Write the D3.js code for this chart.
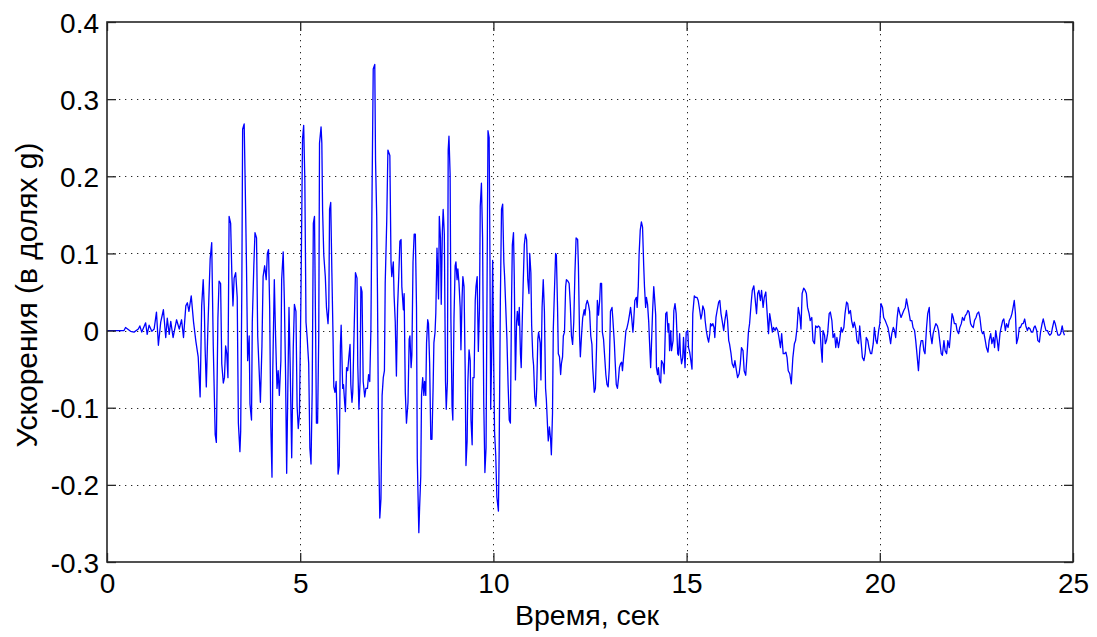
<!DOCTYPE html>
<html><head><meta charset="utf-8">
<script src="https://cdn.jsdelivr.net/npm/d3@7/dist/d3.min.js"></script>
<style>body{margin:0;background:#fff}svg{display:block}</style>
</head><body><svg id="c" width="1097" height="637"></svg>
<script>
// [time (s), acceleration (g)]
const onset = [[0,0],[0.44,0],[0.48,0.004],[0.61,-0.001],[0.70,-0.002],[0.81,0.002],[0.85,0.006],[0.90,-0.002],[1.00,0.010],[1.04,-0.005],[1.09,0.007],[1.16,-0.001],[1.22,0.002],[1.28,0.024],[1.33,-0.019],[1.39,0.011],[1.46,0.027],[1.52,-0.009],[1.56,0.016],[1.61,-0.005],[1.65,0.012],[1.71,-0.009],[1.80,0.014],[1.87,0.002],[1.93,0.014],[1.98,-0.009],[2.04,0.032],[2.08,0.036],[2.12,0.025],[2.18,0.045],[2.24,0.011],[2.30,-0.014],[2.36,-0.034],[2.41,-0.086]];
const strongA = [[2.45,0.032],[2.49,0.066],[2.52,0.025],[2.54,-0.025],[2.57,-0.073],[2.61,0.002],[2.67,0.093],[2.71,0.114],[2.75,-0.020],[2.80,-0.135],[2.83,-0.145],[2.87,0.016],[2.90,0.064],[2.94,0.061],[2.97,-0.043],[3.01,-0.068],[3.04,-0.061],[3.07,-0.020],[3.10,-0.030],[3.13,-0.061],[3.16,0.148],[3.20,0.139],[3.23,0.075],[3.26,0.032],[3.29,0.068],[3.33,0.075],[3.37,0.043],[3.40,-0.120],[3.44,-0.157],[3.46,-0.130],[3.49,0.061],[3.51,0.261],[3.55,0.268],[3.58,0.180],[3.61,0.084],[3.64,-0.039],[3.68,-0.007],[3.70,-0.095],[3.74,-0.116],[3.76,0.011],[3.80,0.084],[3.83,0.127],[3.87,0.120],[3.90,-0.007],[3.94,-0.055],[3.97,-0.093],[4.01,-0.020],[4.04,0.070],[4.08,0.084],[4.12,0.066],[4.15,0.100],[4.18,0.105],[4.21,0.030],[4.24,-0.125],[4.27,-0.190],[4.29,-0.052],[4.33,0.066],[4.36,-0.002],[4.40,-0.075],[4.43,-0.052],[4.46,-0.084],[4.50,-0.039],[4.52,0.066],[4.56,0.102],[4.59,0.039],[4.62,-0.052],[4.65,-0.185],[4.68,-0.075],[4.71,0.030],[4.74,-0.043],[4.78,-0.165],[4.82,-0.023]];
const strongB = [[4.85,0.034],[4.89,0.025],[4.92,-0.098],[4.95,-0.127],[4.98,-0.109],[5.02,0.048],[5.06,0.248],[5.09,0.266],[5.12,0.195],[5.15,0.011],[5.18,-0.009],[5.22,-0.043],[5.25,-0.152],[5.28,-0.173],[5.31,-0.080],[5.34,0.139],[5.37,0.148],[5.40,-0.007],[5.42,-0.120],[5.45,-0.120],[5.48,-0.007],[5.50,0.243],[5.54,0.264],[5.56,0.243],[5.58,0.155],[5.61,0.098],[5.65,0.070],[5.68,0.030],[5.72,0.009],[5.74,0.030],[5.76,0.157],[5.79,0.166],[5.82,0.075],[5.85,-0.009],[5.87,-0.073],[5.90,-0.080],[5.93,-0.066],[5.96,-0.125],[5.98,-0.186],[6.01,-0.175],[6.04,-0.020],[6.06,0.007],[6.10,-0.075],[6.12,-0.070],[6.15,-0.093],[6.17,-0.105],[6.20,-0.048],[6.23,-0.052],[6.26,-0.034],[6.29,-0.018],[6.31,-0.070],[6.34,-0.093],[6.36,-0.080],[6.40,0.009],[6.43,0.075],[6.47,0.068],[6.49,-0.045],[6.52,-0.102],[6.55,-0.066],[6.57,0.057],[6.60,0.050],[6.63,-0.066],[6.67,-0.086],[6.70,-0.075],[6.74,-0.075],[6.77,-0.057],[6.80,-0.066],[6.83,0.002],[6.86,0.180],[6.89,0.339],[6.93,0.345],[6.95,0.220],[6.98,0.148],[7.00,0.048],[7.03,-0.150],[7.06,-0.243],[7.09,-0.218],[7.12,-0.084],[7.15,-0.061],[7.18,-0.052],[7.20,0.061],[7.24,0.143],[7.27,0.234]];
const strongC = [[7.32,0.227],[7.35,0.089],[7.37,0.070],[7.41,0.089],[7.43,0.045],[7.46,0.011],[7.49,-0.059],[7.52,0.030],[7.55,0.070],[7.58,0.116],[7.61,0.118],[7.63,0.057],[7.67,0.027],[7.69,0.048],[7.72,-0.080],[7.75,-0.120],[7.79,-0.093],[7.82,-0.011],[7.84,-0.007],[7.87,-0.048],[7.89,-0.032],[7.92,0.089],[7.95,0.125],[7.98,0.125],[8.01,0.030],[8.03,-0.166],[8.07,-0.262],[8.09,-0.230],[8.12,-0.189],[8.14,-0.084],[8.17,-0.061],[8.20,-0.084],[8.22,-0.066],[8.25,-0.084],[8.27,-0.016],[8.30,0.014],[8.32,0.009],[8.35,-0.043],[8.38,-0.141],[8.41,-0.141],[8.44,-0.073],[8.46,-0.016],[8.49,-0.002],[8.51,0.023],[8.54,0.107],[8.58,0.041],[8.60,0.148],[8.63,0.120],[8.65,0.034],[8.68,0.130],[8.70,0.157],[8.73,0.125],[8.76,-0.066],[8.78,-0.102],[8.81,-0.066],[8.83,0.234],[8.85,0.252],[8.88,0.202],[8.90,0.016],[8.93,-0.098],[8.95,-0.116],[8.98,0.016],[9.01,0.084],[9.03,0.089],[9.06,0.066],[9.08,0.080],[9.11,0.061],[9.14,0.030],[9.16,-0.025],[9.19,0.043],[9.21,0.070],[9.24,0.057],[9.27,-0.052],[9.29,-0.175],[9.32,-0.143],[9.34,-0.066],[9.37,-0.025],[9.40,-0.039],[9.42,-0.116],[9.45,-0.148],[9.47,-0.061],[9.50,-0.061],[9.53,0.039],[9.55,0.057],[9.58,0.070]];
const strongD = [[9.61,-0.027],[9.64,0.030],[9.66,0.161],[9.69,0.191],[9.72,0.120],[9.75,-0.093],[9.78,-0.184],[9.81,-0.152],[9.84,0.093],[9.86,0.259],[9.89,0.250],[9.91,0.098],[9.93,-0.102],[9.96,-0.020],[9.98,0.091],[10.01,-0.048],[10.03,-0.132],[10.06,-0.161],[10.09,-0.216],[10.13,-0.234],[10.15,-0.152],[10.18,0.039],[10.21,0.157],[10.24,0.164],[10.27,0.089],[10.29,0.070],[10.32,0.030],[10.35,-0.011],[10.38,-0.070],[10.41,-0.116],[10.44,-0.120],[10.47,0.039],[10.49,0.111],[10.52,0.127],[10.54,0.070],[10.57,-0.064],[10.60,0.011],[10.62,0.025],[10.65,0.007],[10.67,0.030],[10.70,-0.030],[10.72,-0.048],[10.74,-0.002],[10.77,0.059],[10.80,0.111],[10.83,0.125],[10.86,0.118],[10.89,0.066],[10.92,0.048],[10.94,0.100],[10.97,0.075],[10.99,0.007],[11.02,-0.034],[11.04,-0.045],[11.07,-0.086],[11.10,-0.098],[11.12,-0.075],[11.15,-0.011],[11.17,-0.002],[11.21,-0.016],[11.23,-0.064],[11.26,0.030],[11.29,0.066],[11.32,0.025],[11.35,-0.075],[11.37,-0.089],[11.40,-0.123],[11.42,-0.143],[11.45,-0.125],[11.48,-0.141],[11.50,-0.161],[11.53,-0.107],[11.55,0.002],[11.58,0.052],[11.61,0.100],[11.63,0.098],[11.66,0.030],[11.68,-0.030],[11.71,-0.034],[11.74,-0.057],[11.76,-0.043],[11.79,-0.034],[11.81,-0.007],[11.84,-0.002],[11.87,0.057],[11.89,0.066],[11.93,0.064],[11.96,0.061]];
const decayA = [[11.99,0.034],[12.02,-0.007],[12.05,-0.018],[12.08,0.011],[12.11,0.075],[12.14,0.120],[12.18,0.118],[12.20,0.084],[12.23,-0.007],[12.25,-0.034],[12.28,-0.007],[12.31,0.016],[12.35,0.027],[12.37,0.020],[12.40,0.034],[12.43,0.039],[12.46,0.034],[12.49,0.025],[12.52,-0.007],[12.55,-0.018],[12.57,-0.048],[12.61,-0.080],[12.64,-0.075],[12.67,-0.020],[12.69,0.039],[12.72,0.020],[12.75,0.039],[12.77,0.061],[12.80,0.061],[12.82,-0.002],[12.85,-0.011],[12.88,-0.034],[12.91,-0.057],[12.94,-0.070],[12.97,-0.073],[13.00,-0.048],[13.03,0.025],[13.07,0.030],[13.09,0.016],[13.13,-0.016],[13.15,-0.039],[13.18,-0.070],[13.21,-0.075],[13.24,-0.061],[13.26,-0.048],[13.29,-0.043],[13.32,-0.041],[13.34,-0.052],[13.37,-0.034],[13.39,-0.023],[13.43,0.000],[13.45,0.002],[13.49,0.011],[13.52,0.020],[13.55,0.030],[13.58,0.016],[13.61,-0.002],[13.63,0.011],[13.66,0.039],[13.70,0.043],[13.72,0.030],[13.75,0.057],[13.77,0.098],[13.80,0.130],[13.83,0.141],[13.86,0.134],[13.89,0.084],[13.91,0.057],[13.94,0.030],[13.96,0.043],[13.99,0.034],[14.02,0.011],[14.04,-0.014],[14.07,-0.048],[14.09,-0.020],[14.12,0.025],[14.15,0.057],[14.17,0.043],[14.20,0.020],[14.22,-0.048],[14.25,-0.057]];
const decayB = [[14.27,-0.048],[14.30,-0.065],[14.33,-0.068],[14.35,-0.039],[14.39,-0.043],[14.42,-0.056],[14.46,0.022],[14.49,0.024],[14.52,-0.002],[14.54,0.009],[14.56,-0.026],[14.59,0.000],[14.61,-0.026],[14.65,-0.013],[14.67,0.026],[14.70,0.035],[14.73,0.022],[14.77,-0.030],[14.79,-0.032],[14.82,-0.004],[14.84,-0.030],[14.87,-0.043],[14.90,-0.035],[14.92,-0.009],[14.96,-0.048],[14.99,-0.002],[15.03,0.000],[15.05,-0.022],[15.08,-0.028],[15.10,-0.035],[15.14,-0.050],[15.16,0.022],[15.20,0.045],[15.23,0.043],[15.27,0.043],[15.30,0.039],[15.34,0.026],[15.37,0.015],[15.40,0.022],[15.42,0.032],[15.46,0.026],[15.48,0.013],[15.51,0.000],[15.54,-0.009],[15.57,-0.015],[15.60,-0.004],[15.62,0.009],[15.65,0.006],[15.68,0.009],[15.71,0.004],[15.73,-0.009],[15.76,0.017],[15.79,0.026],[15.83,0.037],[15.86,0.039],[15.89,0.022],[15.92,0.013],[15.96,0.000],[15.99,0.013],[16.03,0.026],[16.06,0.013],[16.09,-0.013],[16.11,-0.017],[16.15,-0.030],[16.18,-0.043],[16.22,-0.048],[16.25,-0.039],[16.29,-0.052],[16.32,-0.061],[16.36,-0.056],[16.39,-0.043],[16.42,-0.022],[16.46,-0.026],[16.49,-0.052],[16.53,-0.058],[16.56,-0.035],[16.60,-0.002],[16.63,0.009],[16.67,0.035],[16.70,0.052],[16.74,0.058],[16.77,0.043],[16.81,0.022],[16.84,0.048],[16.87,0.052],[16.91,0.039],[16.94,0.052],[16.98,0.030],[17.01,0.043],[17.05,0.050],[17.08,0.026],[17.12,-0.004],[17.15,0.022],[17.19,0.009],[17.22,-0.002],[17.25,0.004],[17.29,0.000],[17.32,0.004],[17.36,0.000],[17.39,-0.009],[17.43,-0.022],[17.46,-0.004],[17.50,-0.030],[17.53,-0.030],[17.57,-0.028],[17.60,-0.035],[17.63,-0.052]];
const decayC = [[17.67,-0.056],[17.71,-0.069],[17.75,-0.035],[17.79,-0.017],[17.82,-0.013],[17.86,0.004],[17.89,0.030],[17.93,0.019],[17.96,0.002],[17.99,0.048],[18.03,0.055],[18.07,0.052],[18.10,0.048],[18.13,0.030],[18.17,0.022],[18.20,0.013],[18.24,0.017],[18.27,-0.013],[18.31,-0.017],[18.34,0.006],[18.38,0.004],[18.41,0.006],[18.45,0.004],[18.48,-0.022],[18.51,-0.041],[18.53,0.000],[18.57,-0.006],[18.59,-0.017],[18.62,-0.013],[18.65,-0.004],[18.69,0.022],[18.72,0.024],[18.76,0.013],[18.79,-0.009],[18.83,-0.004],[18.86,-0.022],[18.89,-0.009],[18.93,-0.022],[18.96,-0.013],[19.00,0.004],[19.03,-0.002],[19.07,0.004],[19.10,0.022],[19.14,0.037],[19.17,0.035],[19.20,0.022],[19.24,0.026],[19.27,0.013],[19.31,0.004],[19.34,0.011],[19.38,0.002],[19.41,-0.013],[19.45,-0.017],[19.48,0.006],[19.52,-0.017],[19.55,-0.035],[19.59,-0.039],[19.62,-0.030],[19.65,-0.009],[19.69,-0.013],[19.72,-0.022],[19.76,-0.030],[19.79,-0.030],[19.83,-0.017],[19.86,0.004],[19.90,-0.013],[19.93,-0.017],[19.97,0.000],[20.00,0.009],[20.03,0.035],[20.07,0.030],[20.10,0.017],[20.14,0.013],[20.17,0.009],[20.21,0.004],[20.24,-0.004],[20.28,-0.017],[20.31,-0.004],[20.35,0.004],[20.38,0.000],[20.41,-0.009],[20.45,0.017],[20.48,0.030],[20.52,0.022],[20.55,0.017],[20.59,0.022],[20.62,0.026],[20.66,0.030],[20.69,0.041],[20.73,0.030],[20.76,0.022],[20.79,0.013],[20.83,0.013],[20.86,0.004],[20.90,0.000],[20.93,-0.013],[20.97,-0.035],[21.00,-0.052],[21.04,-0.022],[21.07,-0.013],[21.11,-0.013],[21.14,-0.026],[21.17,-0.030],[21.21,0.004],[21.24,0.022],[21.28,0.030]];
const decayD = [[21.31,-0.004],[21.35,-0.017],[21.38,-0.004],[21.42,0.004],[21.45,0.009],[21.49,0.006],[21.52,0.000],[21.55,-0.013],[21.59,-0.030],[21.62,-0.032],[21.66,-0.013],[21.69,-0.026],[21.73,-0.030],[21.76,-0.013],[21.80,-0.022],[21.83,-0.004],[21.87,0.022],[21.90,0.017],[21.93,0.009],[21.97,0.009],[22.00,0.000],[22.04,-0.004],[22.07,0.004],[22.11,0.009],[22.14,0.017],[22.18,0.013],[22.21,0.019],[22.25,0.022],[22.28,0.026],[22.31,0.024],[22.35,0.009],[22.38,0.006],[22.42,0.004],[22.45,0.013],[22.49,0.017],[22.52,0.022],[22.56,0.024],[22.59,0.017],[22.63,0.000],[22.66,-0.004],[22.69,-0.002],[22.73,-0.013],[22.76,-0.022],[22.80,-0.028],[22.83,-0.013],[22.87,-0.004],[22.90,-0.017],[22.94,-0.009],[22.97,-0.022],[23.00,0.000],[23.04,-0.013],[23.07,-0.026],[23.11,-0.004],[23.14,0.004],[23.18,0.013],[23.21,0.015],[23.25,0.000],[23.28,0.009],[23.32,0.004],[23.35,0.013],[23.39,0.017],[23.42,0.022],[23.45,0.030],[23.48,0.039],[23.51,0.022],[23.54,-0.017],[23.58,-0.009],[23.61,0.004],[23.64,0.004],[23.68,0.009],[23.71,0.009],[23.75,0.015],[23.78,0.006],[23.82,0.000],[23.85,0.004],[23.89,0.002],[23.92,-0.002],[23.96,-0.002],[23.99,0.004],[24.02,0.006],[24.06,0.000],[24.09,-0.013],[24.13,-0.015],[24.16,-0.002],[24.20,0.009],[24.23,0.015],[24.27,0.006],[24.30,0.000],[24.34,0.000],[24.37,-0.004],[24.40,-0.006],[24.44,-0.004],[24.47,0.004],[24.51,0.013],[24.54,0.009],[24.58,0.000],[24.61,-0.006],[24.65,-0.006],[24.68,-0.004],[24.72,0.006],[24.75,-0.002],[24.78,-0.006]];

const xTickValues = [0, 5, 10, 15, 20, 25];
const yTickValues = [-0.3, -0.2, -0.1, 0, 0.1, 0.2, 0.3, 0.4];
const xTitle = "Время, сек";
const yTitle = "Ускорения (в долях g)";

const record = [].concat(onset, strongA, strongB, strongC, strongD, decayA, decayB, decayC, decayD);

const FONT = "'Liberation Sans', Arial, Helvetica, sans-serif";
const svg = d3.select("#c");
const box = {l: 107, t: 22, r: 1073, b: 562};
const x = d3.scaleLinear().domain([0, 25]).range([box.l, box.r]);
const y = d3.scaleLinear().domain([-0.3, 0.4]).range([box.b, box.t]);

// grid
const grid = svg.append("g").attr("stroke", "#262626").attr("stroke-width", 1).attr("stroke-dasharray", "1.3,4.7");
grid.selectAll(".gx").data(xTickValues.slice(1, -1)).join("line")
  .attr("x1", d => Math.round(x(d)) + 0.5).attr("x2", d => Math.round(x(d)) + 0.5)
  .attr("y1", box.t).attr("y2", box.b);
grid.selectAll(".gy").data(yTickValues.slice(1, -1)).join("line")
  .attr("y1", d => Math.round(y(d)) + 0.5).attr("y2", d => Math.round(y(d)) + 0.5)
  .attr("x1", box.l).attr("x2", box.r);

// signal
svg.append("path").datum(record)
  .attr("fill", "none").attr("stroke", "#0000ff").attr("stroke-width", 1.3)
  .attr("stroke-linejoin", "round")
  .attr("d", d3.line().x(d => x(d[0])).y(d => y(d[1])));

// axes (ticks inward)
const fmt = d => String(d);
const axB = svg.append("g").attr("transform", `translate(0,${box.b})`)
  .call(d3.axisBottom(x).tickValues(xTickValues).tickFormat(fmt).tickSize(-9).tickPadding(11));
const axL = svg.append("g").attr("transform", `translate(${box.l},0)`)
  .call(d3.axisLeft(y).tickValues(yTickValues).tickFormat(fmt).tickSize(-9).tickPadding(8));
const axT = svg.append("g").attr("transform", `translate(0,${box.t})`)
  .call(d3.axisTop(x).tickValues(xTickValues).tickFormat("").tickSize(-9));
const axR = svg.append("g").attr("transform", `translate(${box.r},0)`)
  .call(d3.axisRight(y).tickValues(yTickValues).tickFormat("").tickSize(-9));
[axB, axL, axT, axR].forEach(a => {
  a.select(".domain").remove();
  a.selectAll("line").attr("stroke", "#262626").attr("stroke-width", 1.3);
  a.selectAll("text").attr("font-family", FONT).attr("font-size", 28).attr("fill", "#000");
});
axB.selectAll("text").attr("dy", "0.71em");
axL.selectAll("text").attr("dy", "0.36em");

// box
svg.append("rect").attr("x", box.l).attr("y", box.t)
  .attr("width", box.r - box.l).attr("height", box.b - box.t)
  .attr("fill", "none").attr("stroke", "#262626").attr("stroke-width", 1.6);

// titles
svg.append("text").attr("x", 587).attr("y", 625)
  .attr("text-anchor", "middle").attr("font-family", FONT).attr("font-size", 28.5)
  .text(xTitle);
svg.append("text").attr("transform", `translate(37,295) rotate(-90)`)
  .attr("text-anchor", "middle").attr("font-family", FONT).attr("font-size", 30)
  .text(yTitle);
</script></body></html>
